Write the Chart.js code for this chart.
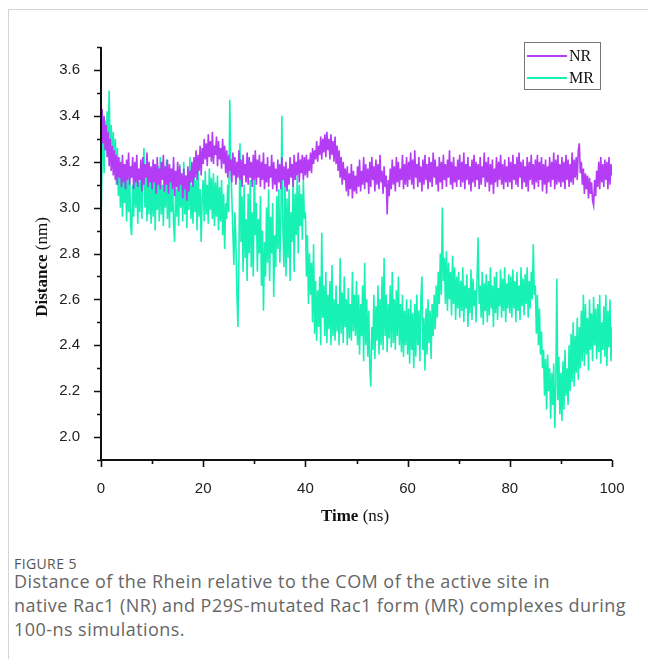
<!DOCTYPE html>
<html>
<head>
<meta charset="utf-8">
<title>Figure 5</title>
<script src="https://cdn.jsdelivr.net/npm/chart.js@4/dist/chart.umd.min.js"></script>
<style>
  body { margin: 0; background: #fff; width: 648px; height: 659px; overflow: hidden; position: relative; }
  .card { position: absolute; left: 8px; top: 9px; right: 0; bottom: 0; border-top: 1px solid #d4d4d4; border-left: 1px solid #d4d4d4; }
  #chart { position: absolute; left: 0; top: 0; }
  .fig-label { position: absolute; left: 14px; top: 554px; font: 14px "Open Sans", sans-serif; color: #555; letter-spacing: 0.4px; }
  .caption { position: absolute; left: 14px; top: 569px; white-space: nowrap; font: 18px/24px "Open Sans", sans-serif; color: #666; letter-spacing: 0.45px; }
</style>
</head>
<body>
<div class="card"></div>
<canvas id="chart" width="648" height="540"></canvas>
<div class="fig-label">FIGURE 5</div>
<div class="caption">Distance of the Rhein relative to the COM of the active site in<br>native Rac1 (NR) and P29S-mutated Rac1 form (MR) complexes during<br>100-ns simulations.</div>
<script>
// sampling interval of the trajectories (ns)
const timeStep = 0.2;

const seriesNames = ['NR', 'MR'];
const seriesColors = ['#b43cf5', '#17f2b4'];

// NR distance (nm), one row per 10 ns
const nrDistance = [
  3.20, 3.43, 3.28, 3.40, 3.25, 3.36, 3.22, 3.33, 3.18, 3.30, 3.16, 3.27, 3.14, 3.25, 3.12, 3.23, 3.10, 3.22, 3.13, 3.20, 3.09, 3.23, 3.11, 3.19, 3.08, 3.21, 3.12, 3.24, 3.10, 3.18, 3.13, 3.22, 3.08, 3.20, 3.11, 3.23, 3.09, 3.17, 3.12, 3.21, 3.07, 3.22, 3.10, 3.19, 3.13, 3.24, 3.09, 3.20, 3.11, 3.18,
  3.08, 3.21, 3.11, 3.19, 3.06, 3.22, 3.10, 3.17, 3.08, 3.20, 3.12, 3.23, 3.07, 3.18, 3.10, 3.21, 3.06, 3.19, 3.11, 3.17, 3.08, 3.22, 3.05, 3.16, 3.09, 3.20, 3.07, 3.18, 3.10, 3.15, 3.04, 3.17, 3.08, 3.14, 3.03, 3.18, 3.07, 3.16, 3.11, 3.20, 3.09, 3.22, 3.13, 3.25, 3.12, 3.23, 3.16, 3.27, 3.14, 3.26,
  3.19, 3.30, 3.21, 3.28, 3.18, 3.32, 3.22, 3.29, 3.20, 3.33, 3.19, 3.27, 3.23, 3.31, 3.18, 3.29, 3.21, 3.26, 3.17, 3.30, 3.19, 3.27, 3.15, 3.25, 3.13, 3.23, 3.16, 3.21, 3.11, 3.24, 3.14, 3.22, 3.10, 3.20, 3.13, 3.25, 3.12, 3.21, 3.09, 3.23, 3.14, 3.19, 3.11, 3.24, 3.10, 3.22, 3.13, 3.20, 3.09, 3.23,
  3.12, 3.25, 3.10, 3.21, 3.13, 3.23, 3.09, 3.20, 3.12, 3.24, 3.08, 3.19, 3.11, 3.22, 3.09, 3.18, 3.13, 3.23, 3.08, 3.20, 3.10, 3.17, 3.07, 3.21, 3.11, 3.19, 3.08, 3.22, 3.12, 3.18, 3.09, 3.20, 3.07, 3.17, 3.10, 3.22, 3.13, 3.19, 3.09, 3.23, 3.12, 3.20, 3.14, 3.24, 3.11, 3.21, 3.15, 3.23, 3.12, 3.22,
  3.14, 3.23, 3.13, 3.21, 3.16, 3.24, 3.15, 3.26, 3.19, 3.25, 3.21, 3.29, 3.20, 3.27, 3.23, 3.31, 3.21, 3.30, 3.24, 3.32, 3.22, 3.33, 3.25, 3.30, 3.21, 3.32, 3.23, 3.29, 3.20, 3.31, 3.19, 3.27, 3.16, 3.25, 3.13, 3.22, 3.10, 3.20, 3.12, 3.17, 3.07, 3.18, 3.05, 3.15, 3.08, 3.19, 3.04, 3.16, 3.07, 3.14,
  3.06, 3.18, 3.09, 3.21, 3.07, 3.16, 3.10, 3.22, 3.08, 3.19, 3.11, 3.17, 3.06, 3.20, 3.09, 3.22, 3.12, 3.18, 3.07, 3.21, 3.10, 3.19, 3.08, 3.23, 3.11, 3.16, 3.06, 3.18, 3.09, 3.14, 2.97, 3.12, 3.05, 3.17, 3.08, 3.21, 3.10, 3.18, 3.07, 3.22, 3.11, 3.20, 3.09, 3.17, 3.12, 3.23, 3.08, 3.19, 3.10, 3.22,
  3.09, 3.20, 3.12, 3.24, 3.10, 3.21, 3.08, 3.25, 3.13, 3.19, 3.09, 3.22, 3.11, 3.18, 3.07, 3.21, 3.10, 3.23, 3.12, 3.19, 3.08, 3.22, 3.11, 3.20, 3.09, 3.24, 3.13, 3.21, 3.10, 3.18, 3.07, 3.22, 3.11, 3.20, 3.08, 3.23, 3.12, 3.19, 3.09, 3.21, 3.13, 3.25, 3.10, 3.20, 3.08, 3.22, 3.11, 3.18, 3.09, 3.21,
  3.12, 3.23, 3.09, 3.20, 3.11, 3.24, 3.08, 3.19, 3.12, 3.22, 3.10, 3.18, 3.07, 3.21, 3.11, 3.23, 3.09, 3.20, 3.12, 3.19, 3.08, 3.22, 3.10, 3.18, 3.13, 3.24, 3.09, 3.20, 3.11, 3.22, 3.07, 3.19, 3.10, 3.21, 3.06, 3.17, 3.11, 3.22, 3.09, 3.20, 3.12, 3.23, 3.10, 3.19, 3.08, 3.21, 3.11, 3.18, 3.09, 3.22,
  3.11, 3.20, 3.08, 3.23, 3.12, 3.19, 3.10, 3.22, 3.09, 3.24, 3.13, 3.20, 3.08, 3.21, 3.11, 3.18, 3.09, 3.22, 3.07, 3.20, 3.12, 3.23, 3.10, 3.19, 3.08, 3.21, 3.11, 3.23, 3.09, 3.20, 3.12, 3.22, 3.07, 3.19, 3.10, 3.21, 3.06, 3.18, 3.11, 3.22, 3.09, 3.20, 3.12, 3.24, 3.08, 3.21, 3.10, 3.23, 3.11, 3.19,
  3.09, 3.22, 3.11, 3.20, 3.08, 3.23, 3.12, 3.21, 3.09, 3.19, 3.11, 3.24, 3.10, 3.21, 3.13, 3.22, 3.12, 3.25, 3.28, 3.15, 3.20, 3.10, 3.17, 3.06, 3.15, 3.08, 3.14, 3.04, 3.13, 3.06, 3.11, 3.03, 3.01, 3.12, 3.05, 3.16, 3.09, 3.20, 3.08, 3.22, 3.11, 3.19, 3.09, 3.21, 3.12, 3.20, 3.08, 3.22, 3.10, 3.19, 3.14
];

// MR distance (nm), one row per 10 ns
const mrDistance = [
  2.90, 3.20, 3.32, 3.15, 3.38, 3.25, 3.42, 3.30, 3.51, 3.22, 3.36, 3.18, 3.33, 3.15, 3.30, 3.10, 3.26, 3.05, 3.22, 3.00, 3.18, 2.96, 3.15, 3.02, 3.19, 2.94, 3.12, 2.98, 3.16, 2.92, 2.88, 3.10, 2.96, 3.18, 3.00, 3.14, 2.93, 3.11, 2.98, 3.20, 2.95, 3.13, 3.26, 3.00, 3.15, 2.94, 3.12, 2.97, 3.17, 2.93,
  3.14, 2.96, 3.19, 2.90, 3.12, 2.99, 3.18, 2.94, 3.22, 2.97, 3.10, 2.92, 3.16, 3.00, 3.21, 2.95, 3.13, 2.91, 3.17, 2.98, 3.11, 2.93, 2.85, 3.08, 2.96, 3.15, 2.92, 3.19, 3.00, 3.12, 2.94, 3.20, 2.97, 3.14, 2.91, 3.17, 2.99, 3.22, 2.95, 3.10, 2.93, 3.16, 2.98, 3.12, 2.90, 3.18, 2.96, 3.08, 2.85, 3.05,
  3.12, 2.94, 3.16, 2.97, 3.10, 2.93, 3.17, 2.99, 3.13, 2.95, 3.15, 2.92, 3.11, 2.96, 3.14, 2.90, 3.09, 2.94, 3.12, 2.88, 3.06, 2.82, 3.02, 2.95, 3.10, 2.98, 3.47, 3.18, 3.05, 2.90, 2.75, 2.98, 2.85, 2.62, 2.48, 2.80, 3.28, 2.85, 3.05, 2.72, 3.10, 2.78, 2.95, 2.68, 3.06, 2.80, 3.12, 2.74, 2.98, 2.70,
  3.20, 2.88, 3.02, 2.72, 2.95, 2.80, 3.05, 2.66, 2.90, 2.55, 2.85, 2.70, 3.00, 2.76, 3.08, 2.68, 2.96, 2.80, 3.02, 2.61, 2.88, 2.74, 3.05, 2.82, 3.08, 2.76, 2.95, 3.40, 2.90, 2.74, 3.12, 2.70, 3.04, 2.78, 3.08, 2.68, 2.98, 2.85, 3.13, 2.72, 3.06, 2.88, 3.14, 2.80, 3.10, 2.92, 3.06, 2.86, 3.12, 2.95,
  2.98, 2.70, 2.88, 2.58, 2.80, 2.62, 2.76, 2.50, 2.84, 2.45, 2.68, 2.42, 2.64, 2.48, 2.70, 2.40, 2.89, 2.52, 2.66, 2.44, 2.72, 2.41, 2.62, 2.47, 2.68, 2.40, 2.75, 2.44, 2.60, 2.42, 2.66, 2.46, 2.58, 2.40, 2.78, 2.45, 2.63, 2.41, 2.70, 2.48, 2.60, 2.40, 2.65, 2.43, 2.58, 2.42, 2.72, 2.46, 2.62, 2.44,
  2.68, 2.40, 2.62, 2.36, 2.58, 2.44, 2.66, 2.33, 2.76, 2.40, 2.60, 2.35, 2.55, 2.30, 2.22, 2.48, 2.38, 2.62, 2.34, 2.57, 2.42, 2.66, 2.36, 2.60, 2.40, 2.70, 2.38, 2.78, 2.44, 2.62, 2.37, 2.58, 2.43, 2.66, 2.39, 2.72, 2.41, 2.60, 2.38, 2.64, 2.44, 2.70, 2.40, 2.58, 2.37, 2.62, 2.35, 2.55, 2.40, 2.60,
  2.36, 2.56, 2.32, 2.60, 2.38, 2.54, 2.30, 2.58, 2.35, 2.62, 2.40, 2.55, 2.33, 2.60, 2.70, 2.38, 2.52, 2.29, 2.56, 2.36, 2.60, 2.41, 2.55, 2.34, 2.58, 2.44, 2.62, 2.47, 2.66, 2.52, 2.72, 2.58, 2.80, 2.62, 3.00, 2.68, 2.78, 2.58, 2.81, 2.55, 2.76, 2.60, 2.72, 2.53, 2.79, 2.58, 2.74, 2.51, 2.70, 2.56,
  2.72, 2.52, 2.68, 2.55, 2.74, 2.50, 2.66, 2.56, 2.71, 2.48, 2.65, 2.54, 2.73, 2.51, 2.69, 2.57, 2.64, 2.50, 2.70, 2.87, 2.58, 2.66, 2.52, 2.72, 2.49, 2.67, 2.55, 2.71, 2.50, 2.68, 2.53, 2.74, 2.56, 2.66, 2.48, 2.70, 2.54, 2.72, 2.51, 2.65, 2.57, 2.73, 2.52, 2.69, 2.55, 2.74, 2.50, 2.67, 2.56, 2.71,
  2.54, 2.70, 2.52, 2.73, 2.56, 2.68, 2.50, 2.72, 2.55, 2.66, 2.51, 2.74, 2.57, 2.69, 2.53, 2.71, 2.58, 2.74, 2.52, 2.68, 2.56, 2.72, 2.60, 2.84, 2.62, 2.66, 2.45, 2.62, 2.40, 2.56, 2.36, 2.46, 2.30, 2.38, 2.18, 2.34, 2.12, 2.36, 2.20, 2.30, 2.08, 2.28, 2.14, 2.32, 2.04, 2.22, 2.69, 2.16, 2.35, 2.10,
  2.28, 2.07, 2.33, 2.12, 2.38, 2.18, 2.30, 2.14, 2.40, 2.20, 2.45, 2.24, 2.50, 2.22, 2.44, 2.28, 2.52, 2.25, 2.48, 2.30, 2.55, 2.33, 2.62, 2.31, 2.58, 2.36, 2.52, 2.29, 2.60, 2.38, 2.54, 2.33, 2.61, 2.40, 2.56, 2.34, 2.58, 2.37, 2.62, 2.32, 2.50, 2.38, 2.57, 2.35, 2.62, 2.31, 2.55, 2.39, 2.60, 2.33, 2.48
];

const times = nrDistance.map((_, i) => +(i * timeStep).toFixed(1));

const xRange = [0, 100];
const yRange = [1.9, 3.7];

const toPoints = arr => arr.map((v, i) => ({ x: times[i], y: v }));

// axis lines + major/minor ticks drawn Origin-style
const originAxes = {
  id: 'originAxes',
  afterDraw(chart) {
    const { ctx, chartArea: a, scales: { x, y } } = chart;
    ctx.save();
    ctx.strokeStyle = '#111';
    ctx.lineWidth = 2;
    ctx.beginPath();
    ctx.moveTo(a.left, a.top);
    ctx.lineTo(a.left, a.bottom);
    ctx.lineTo(a.right, a.bottom);
    ctx.stroke();
    ctx.lineWidth = 1.6;
    ctx.beginPath();
    y.ticks.forEach(t => {
      const py = Math.round(y.getPixelForValue(t.value)) + 0.5;
      const len = t.label ? 7 : 4;
      ctx.moveTo(a.left, py);
      ctx.lineTo(a.left - len, py);
    });
    x.ticks.forEach(t => {
      const px = Math.round(x.getPixelForValue(t.value)) + 0.5;
      const len = t.label ? 7 : 4;
      ctx.moveTo(px, a.bottom);
      ctx.lineTo(px, a.bottom + len);
    });
    ctx.stroke();

    // axis titles: bold word + normal unit
    ctx.fillStyle = '#111';
    ctx.textBaseline = 'middle';
    const drawTitle = (bold, rest, cx, cy, rot) => {
      ctx.save();
      ctx.translate(cx, cy);
      ctx.rotate(rot);
      ctx.font = 'bold 17px "Liberation Serif", serif';
      const w1 = ctx.measureText(bold).width;
      ctx.font = '17px "Liberation Serif", serif';
      const w2 = ctx.measureText(rest).width;
      const start = -(w1 + w2) / 2;
      ctx.textAlign = 'left';
      ctx.font = 'bold 17px "Liberation Serif", serif';
      ctx.fillText(bold, start, 0);
      ctx.font = '17px "Liberation Serif", serif';
      ctx.fillText(rest, start + w1, 0);
      ctx.restore();
    };
    drawTitle('Distance', ' (nm)', 43, 267, -Math.PI / 2);
    drawTitle('Time', ' (ns)', 355, 517, 0);
    ctx.restore();
  }
};

// boxed legend in the top right corner
const boxLegend = {
  id: 'boxLegend',
  afterDraw(chart) {
    const { ctx, chartArea: a } = chart;
    const right = a.right - 12, top = a.top - 5;
    const w = 76, h = 47;
    ctx.save();
    ctx.strokeStyle = '#777';
    ctx.lineWidth = 1;
    ctx.fillStyle = '#fff';
    ctx.fillRect(right - w, top, w, h);
    ctx.strokeRect(right - w + 0.5, top + 0.5, w, h);
    ctx.font = '16px "Liberation Serif", serif';
    ctx.textBaseline = 'middle';
    ctx.textAlign = 'left';
    chart.data.datasets.forEach((ds, i) => {
      const ly = top + 14 + i * 22;
      ctx.strokeStyle = ds.borderColor;
      ctx.lineWidth = 2;
      ctx.beginPath();
      ctx.moveTo(right - w + 3, ly);
      ctx.lineTo(right - w + 43, ly);
      ctx.stroke();
      ctx.fillStyle = '#111';
      ctx.fillText(ds.label, right - w + 45, ly + 1);
    });
    ctx.restore();
  }
};

new Chart(document.getElementById('chart'), {
  type: 'line',
  data: {
    datasets: [
      { label: seriesNames[0], data: toPoints(nrDistance), borderColor: seriesColors[0] },
      { label: seriesNames[1], data: toPoints(mrDistance), borderColor: seriesColors[1] }
    ]
  },
  options: {
    responsive: false,
    animation: false,
    layout: { padding: { left: 0, top: 47, right: 36, bottom: 0 } },
    elements: {
      line: { borderWidth: 1.6, tension: 0, borderJoinStyle: 'miter' },
      point: { radius: 0 }
    },
    plugins: {
      legend: { display: false },
      tooltip: { enabled: false }
    },
    scales: {
      x: {
        type: 'linear',
        min: xRange[0],
        max: xRange[1],
        grid: { display: false },
        border: { display: false },
        ticks: {
          stepSize: 10,
          autoSkip: false,
          maxRotation: 0,
          padding: 12,
          color: '#222',
          font: { family: '"Liberation Sans", Arial, sans-serif', size: 15 },
          callback: v => (v % 20 === 0 ? String(v) : '')
        },
        afterFit: s => { s.height = 80; }
      },
      y: {
        min: yRange[0],
        max: yRange[1],
        grid: { display: false },
        border: { display: false },
        ticks: {
          stepSize: 0.1,
          autoSkip: false,
          padding: 13,
          color: '#222',
          font: { family: '"Liberation Sans", Arial, sans-serif', size: 15 },
          callback: v => {
            const k = Math.round(v * 10);
            return k % 2 === 0 ? (k / 10).toFixed(1) : '';
          }
        },
        afterFit: s => { s.width = 101; }
      }
    }
  },
  plugins: [originAxes, boxLegend]
});
</script>
</body>
</html>
